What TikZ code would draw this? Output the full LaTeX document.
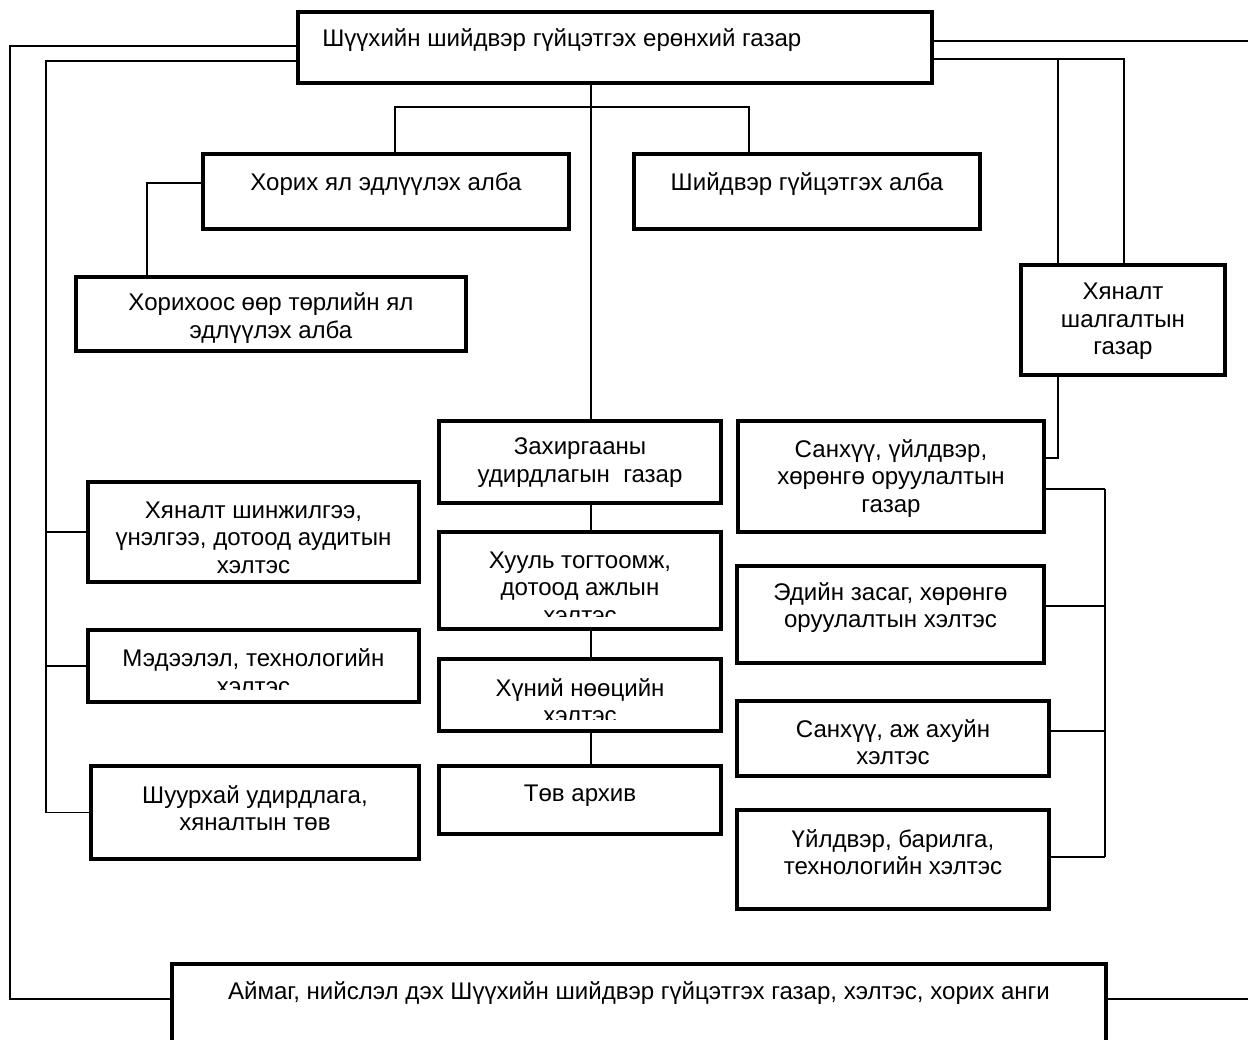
\documentclass[tikz,border=0pt]{standalone}
\usepackage{fontspec}
\setmainfont{Liberation Sans}

\begin{document}
\begin{tikzpicture}[x=0.02cm, y=-0.02cm,
 font=\fontsize{13.7}{15.6}\selectfont,
 unit/.style={draw, line width=2.6pt, inner sep=0pt},
 unit text/.style={align=center, inner sep=0pt},
 link/.style={line width=0.8pt}]
 \useasboundingbox (0,0) rectangle (1248,1039);

 % boxes
 \node[unit, minimum width=12.68cm, minimum height=1.42cm] (head) at (615,47.5) {};
 \node[unit, minimum width=7.32cm, minimum height=1.5cm] (horih) at (386,191.5) {};
 \node[unit, minimum width=6.92cm, minimum height=1.5cm] (shiid) at (807,191.5) {};
 \node[unit, minimum width=7.8cm, minimum height=1.48cm] (horihoos) at (271,314) {};
 \node[unit, minimum width=4.08cm, minimum height=2.2cm] (hyan2) at (1123,320) {};
 \node[unit, minimum width=5.64cm, minimum height=1.64cm] (zahir) at (580,462) {};
 \node[unit, minimum width=6.12cm, minimum height=2.22cm] (sanhuu) at (891,476.5) {};
 \node[unit, minimum width=6.62cm, minimum height=2.0cm] (hyan1) at (253.5,532) {};
 \node[unit, minimum width=5.64cm, minimum height=1.94cm] (huul) at (580,580.5) {};
 \node[unit, minimum width=6.62cm, minimum height=1.44cm] (medeel) at (253.5,666) {};
 \node[unit, minimum width=5.64cm, minimum height=1.44cm] (huni) at (580,695) {};
 \node[unit, minimum width=6.14cm, minimum height=1.94cm] (ediin) at (890.5,614.5) {};
 \node[unit, minimum width=6.24cm, minimum height=1.5cm] (sanaj) at (893,738.5) {};
 \node[unit, minimum width=6.56cm, minimum height=1.86cm] (shuurh) at (255,812.5) {};
 \node[unit, minimum width=5.64cm, minimum height=1.36cm] (tov) at (580,800) {};
 \node[unit, minimum width=6.24cm, minimum height=1.98cm] (uild) at (893,859.5) {};
 \node[unit, minimum width=18.68cm, minimum height=2.12cm] (bottom) at (639,1017) {};

 % texts
 \node[unit text, anchor=base west] (head-t) at (322,46.5) {Шүүхийн шийдвэр гүйцэтгэх ерөнхий газар};
 \node[unit text, anchor=base] (horih-t) at (386,190) {Хорих ял эдлүүлэх алба};
 \node[unit text, anchor=base] (shiid-t) at (807,190) {Шийдвэр гүйцэтгэх алба};
 \node[unit text] (horihoos-t) at (271,318) {Хорихоос өөр төрлийн ял\\эдлүүлэх алба};
 \node[unit text] (hyan2-t) at (1123,321.5) {Хяналт\\шалгалтын\\газар};
 \node[unit text] (zahir-t) at (580,462.5) {Захиргааны\\удирдлагын\ \ газар};
 \node[unit text] (sanhuu-t) at (891,478.5) {Санхүү, үйлдвэр,\\хөрөнгө оруулалтын\\газар};
 \node[unit text] (hyan1-t) at (253.5,537.5) {Хяналт шинжилгээ,\\үнэлгээ, дотоод аудитын\\хэлтэс};
 \begin{scope}
  \clip (439,532) rectangle (721,616);
  \node[unit text] (huul-t) at (580,587.5) {Хууль тогтоомж,\\дотоод ажлын\\хэлтэс};
 \end{scope}
 \begin{scope}
  \clip (88,630) rectangle (419,689);
  \node[unit text] (medeel-t) at (253.5,671.5) {Мэдээлэл, технологийн\\хэлтэс};
 \end{scope}
 \begin{scope}
  \clip (439,659) rectangle (721,719);
  \node[unit text] (huni-t) at (580,701) {Хүний нөөцийн\\хэлтэс};
 \end{scope}
 \node[unit text] (ediin-t) at (890.5,607.5) {Эдийн засаг, хөрөнгө\\оруулалтын хэлтэс};
 \node[unit text] (sanaj-t) at (893,742) {Санхүү, аж ахуйн\\хэлтэс};
 \node[unit text] (shuurh-t) at (255,808) {Шуурхай удирдлага,\\хяналтын төв};
 \node[unit text, anchor=base] (tov-t) at (580,801) {Төв архив};
 \node[unit text] (uild-t) at (893,852) {Үйлдвэр, барилга,\\технологийн хэлтэс};
 \node[unit text, anchor=base] (bottom-t) at (639,999) {Аймаг, нийслэл дэх Шүүхийн шийдвэр гүйцэтгэх газар, хэлтэс, хорих анги};

 % centre line
 \coordinate (spine) at (591,0);
 \foreach \s/\t in {head/zahir, zahir/huul, huul/huni, huni/tov}
  \draw[link] (\s.south -| spine) -- (\t.north -| spine);

 \coordinate (forkL) at (395,107);
 \coordinate (forkR) at (749,107);
 \draw[link] (horih.north -| forkL) -- (forkL) -- (forkR) -- (shiid.north -| forkR);
 \coordinate (horihbend) at (147,183);
 \draw[link] (horih.west |- horihbend) -- (horihbend) -- (horihoos.north -| horihbend);

 % left side
 \coordinate (outTL) at (10,46);
 \coordinate (outBL) at (10,999);
 \draw[link] (head.west |- outTL) -- (outTL) -- (outBL) -- (bottom.west |- outBL);
 \coordinate (inTL) at (46,61);
 \draw[link] (head.west |- inTL) -- (inTL) |- (shuurh.west);
 \foreach \n in {hyan1, medeel}
  \draw[link] (\n.west) -- (\n.west -| inTL);

 % right side
 \coordinate (outTR) at (1250,41);
 \coordinate (outBR) at (1250,999);
 \draw[link] (head.east |- outTR) -- (outTR);
 \draw[link] (bottom.east |- outBR) -- (outBR);
 \coordinate (hyanA) at (1058,59);
 \coordinate (hyanB) at (1124,59);
 \draw[link] (head.east |- hyanA) -- (hyanB) -- (hyan2.north -| hyanB);
 \draw[link] (hyanA) -- (hyan2.north -| hyanA);
 \coordinate (sanbend) at (1058,458);
 \draw[link] (hyan2.south -| sanbend) -- (sanbend) -- (sanhuu.east |- sanbend);

 \foreach \n/\y in {sanhuu/489, ediin/606, sanaj/731, uild/857} {
  \coordinate (bus-\n) at (1105,\y);
  \draw[link] (\n.east |- bus-\n) -- (bus-\n);
 }
 \draw[link] (bus-sanhuu) -- (bus-uild);
\end{tikzpicture}
\end{document}
